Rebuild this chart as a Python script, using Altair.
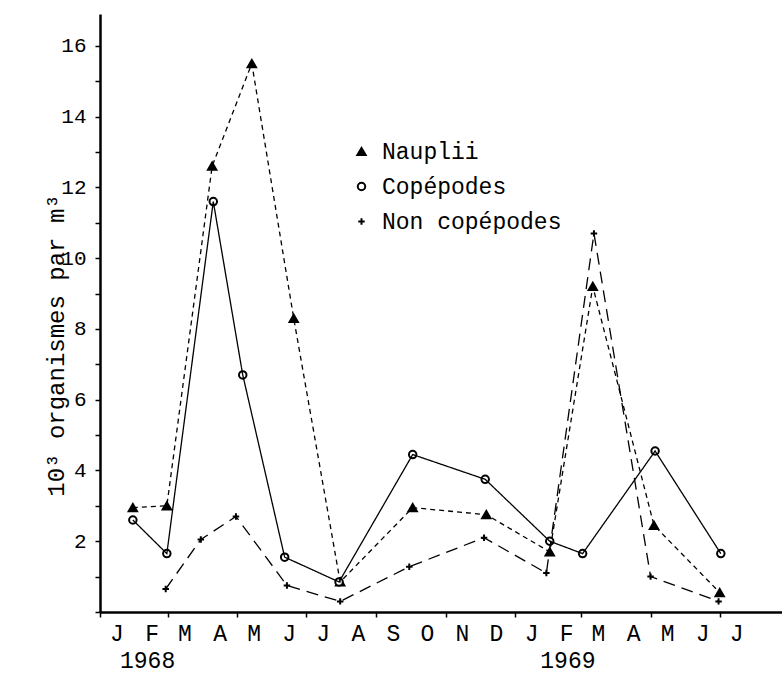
import altair as alt
import pandas as pd

# Sampling dates and abundances (10^3 organisms per m^3)
naup_dates = ["1968-01-30", "1968-02-29", "1968-04-09", "1968-05-14", "1968-06-20",
              "1968-07-31", "1968-10-03", "1968-12-07", "1969-02-01", "1969-03-11",
              "1969-05-04", "1969-07-01"]
naup_vals = [2.95, 3.0, 12.6, 15.5, 8.3, 0.85, 2.95, 2.75, 1.7, 9.2, 2.45, 0.55]

cop_dates = ["1968-01-30", "1968-02-29", "1968-04-10", "1968-05-06", "1968-06-12",
             "1968-07-30", "1968-10-03", "1968-12-06", "1969-02-01", "1969-03-02",
             "1969-05-05", "1969-07-02"]
cop_vals = [2.6, 1.65, 11.6, 6.7, 1.55, 0.85, 4.45, 3.75, 2.0, 1.65, 4.55, 1.65]

noncop_dates = ["1968-02-28", "1968-03-30", "1968-04-30", "1968-06-14", "1968-07-31",
                "1968-09-30", "1968-12-05", "1969-01-29", "1969-03-12", "1969-05-01",
                "1969-06-30"]
noncop_vals = [0.65, 2.05, 2.7, 0.75, 0.3, 1.28, 2.1, 1.1, 10.7, 1.0, 0.3]

series = ["Nauplii", "Copépodes", "Non copépodes"]
month_letters = ["J", "F", "M", "A", "M", "J", "J", "A", "S", "O", "N", "D",
                 "J", "F", "M", "A", "M", "J", "J"]
years = ["1968", "1969"]
year_dates = ["1968-02-12", "1969-02-17"]

rows = []
for name, dates, vals in zip(series, [naup_dates, cop_dates, noncop_dates],
                             [naup_vals, cop_vals, noncop_vals]):
    for d, v in zip(dates, vals):
        rows.append({"serie": name, "date": d, "val": v})
df = pd.DataFrame(rows)
years_df = pd.DataFrame({"annee": years, "date": year_dates})

# one letter per month, centred in the month
month_mid = [f"{1968 + i // 12}-{i % 12 + 1:02d}-16" for i in range(len(month_letters))]
months_df = pd.DataFrame({"mois": month_letters, "date": month_mid})

FONT = "Liberation Mono"
W, H = 682, 598

# month boundaries used as tick positions
tick_values = []
for y in (1968, 1969):
    for m in range(1, 13):
        if y == 1969 and m > 8:
            break
        tick_values.append(alt.DateTime(year=y, month=m, date=1, utc=True))

x_scale = alt.Scale(type="utc", domain=[alt.DateTime(year=1968, month=1, date=1, utc=True),
                                        alt.DateTime(year=1969, month=8, date=25, utc=True)])
x_axis = alt.Axis(
    values=tick_values, labels=False,
    tickSize=5, tickWidth=1.5, tickColor="black", domainWidth=2.5, domainColor="black",
    grid=False, title=None,
)
y_scale = alt.Scale(domain=[0, 16.9], nice=False)
y_axis = alt.Axis(
    values=list(range(0, 17)),
    labelExpr="(datum.value > 0 && datum.value % 2 == 0) ? datum.label : ''",
    labelFontSize=21, labelFont=FONT, labelColor="black", labelPadding=9,
    labelOverlap=False,
    tickSize=5, tickWidth=1.5, tickColor="black", domainWidth=2.5, domainColor="black",
    grid=False,
    title="10³ organismes par m³", titleFont=FONT, titleFontSize=24, titleFontWeight="normal",
    titleColor="black", titleAngle=270, titleX=-44, titleY=331,
    titleAlign="center", titleBaseline="middle", titleLimit=0,
)

base = alt.Chart(df).encode(
    x=alt.X("date:T", scale=x_scale, axis=x_axis),
    y=alt.Y("val:Q", scale=y_scale, axis=y_axis),
)

lines = base.mark_line(color="black", strokeWidth=1.3).encode(
    strokeDash=alt.StrokeDash("serie:N", scale=alt.Scale(domain=series,
                              range=[[5, 4], [1, 0], [12, 7]]), legend=None),
    detail="serie:N",
    order="date:T",
)

plus_path = "M-1,0H1M0,-1V1"
legend = alt.Legend(title=None, orient="none", legendX=250, legendY=126,
                    labelFont=FONT, labelFontSize=23, labelColor="black", labelLimit=0,
                    symbolStrokeWidth=2,
                    labelOffset=9, rowPadding=11, padding=0)
points = base.mark_point(filled=False, strokeWidth=2, opacity=1).encode(
    shape=alt.Shape("serie:N", scale=alt.Scale(domain=series,
                    range=["triangle-up", "circle", plus_path]), legend=legend),
    fill=alt.Fill("serie:N", scale=alt.Scale(domain=series, range=["black", "white", "black"]),
                  legend=legend),
    stroke=alt.Stroke("serie:N", scale=alt.Scale(domain=series, range=["black", "black", "black"]),
                      legend=legend),
    size=alt.Size("serie:N", scale=alt.Scale(domain=series, range=[70, 42, 130]),
                  legend=legend),
)

month_text = alt.Chart(months_df).mark_text(font=FONT, fontSize=23, color="black",
                                             baseline="middle", align="center").encode(
    x=alt.X("date:T", scale=x_scale),
    y=alt.value(H + 22),
    text="mois:N",
)

year_text = alt.Chart(years_df).mark_text(font=FONT, fontSize=23, color="black",
                                           baseline="middle", align="center").encode(
    x=alt.X("date:T", scale=x_scale),
    y=alt.value(H + 49),
    text="annee:N",
)

chart = alt.layer(points, lines, month_text, year_text).resolve_legend(
    strokeDash="independent"
).properties(
    width=W, height=H,
    padding={"left": 100, "top": 14, "right": 0, "bottom": 74},
    autosize=alt.AutoSizeParams(type="none"),
    background="white",
).configure_view(stroke=None)

chart.save("out.html", embed_options={"renderer": "svg", "actions": False})
